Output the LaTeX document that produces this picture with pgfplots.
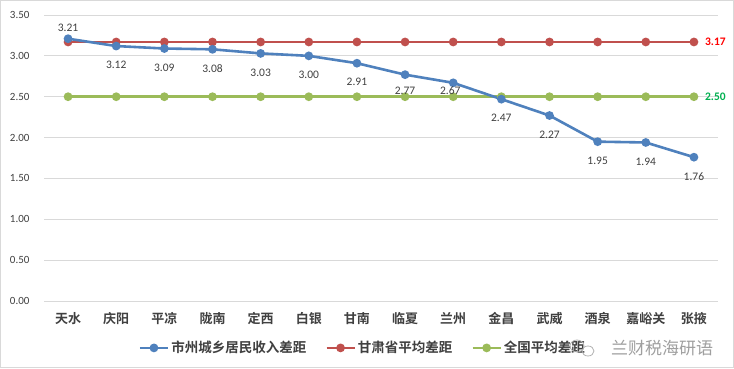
\documentclass[border=0pt]{standalone}
\usepackage{pgfplots}
\pgfplotsset{compat=1.18}
\usepackage{fontspec}
\setmainfont{Carlito}
\newfontfamily\cjk{Noto Sans CJK SC}
\newfontfamily\cjkb{Noto Sans CJK SC Bold}
\definecolor{cblue}{HTML}{4F81BD}
\definecolor{cred}{HTML}{C0504D}
\definecolor{cgreen}{HTML}{9BBB59}
\definecolor{gridc}{HTML}{D9D9D9}
\definecolor{txt}{HTML}{404040}
\begin{document}
\begin{tikzpicture}[x=1pt,y=1pt]
\fill[white] (0,0) rectangle (734,368);
\draw[gridc,line width=1pt] (0.5,0.5) rectangle (733.5,367.5);
\begin{axis}[
  at={(44pt,67pt)}, anchor=south west,
  scale only axis, width=674pt, height=286pt,
  xmin=-0.5, xmax=13.5, ymin=0, ymax=3.5,
  ytick={0,0.5,...,3.5},
  /pgf/number format/assume math mode=true,
  yticklabel style={/pgf/number format/fixed, /pgf/number format/fixed zerofill, /pgf/number format/precision=2},
  yticklabel style={font=\fontsize{11}{12}\selectfont, text=txt, xshift=-11pt},
  xtick={0,...,13},
  xticklabels={天水,庆阳,平凉,陇南,定西,白银,甘南,临夏,兰州,金昌,武威,酒泉,嘉峪关,张掖},
  xticklabel style={font=\cjkb\fontsize{13}{14}\selectfont, text=txt, yshift=-8pt},
  major tick length=0pt,
  axis line style={draw=none},
  ymajorgrids, xmajorgrids=false, grid style={color=gridc, line width=1pt},
  clip=false,
  legend style={at={(0.473,-0.164)}, anchor=center, draw=none, fill=none,
    legend columns=3, font=\cjkb\fontsize{13.5}{14}\selectfont, text=txt,
    /tikz/every even column/.append style={column sep=17pt}},
  legend image code/.code={\draw[mark repeat=2,mark phase=2] plot coordinates {(0pt,0pt)(14pt,0pt)(28pt,0pt)};},
]
\addlegendimage{cblue, line width=2.6pt, mark=*, mark size=3pt}
\addlegendentry{市州城乡居民收入差距}
\addplot[cred, line width=2.6pt, mark=*, mark size=3pt]
  coordinates {(0,3.17) (1,3.17) (2,3.17) (3,3.17) (4,3.17) (5,3.17) (6,3.17)
   (7,3.17) (8,3.17) (9,3.17) (10,3.17) (11,3.17) (12,3.17) (13,3.17)};
\addlegendentry{甘肃省平均差距}
\addplot[cgreen, line width=2.6pt, mark=*, mark size=3pt]
  coordinates {(0,2.50) (1,2.50) (2,2.50) (3,2.50) (4,2.50) (5,2.50) (6,2.50)
   (7,2.50) (8,2.50) (9,2.50) (10,2.50) (11,2.50) (12,2.50) (13,2.50)};
\addlegendentry{全国平均差距}
\addplot[cblue, line width=2.6pt, mark=*, mark size=3pt, forget plot]
  coordinates {(0,3.21) (1,3.12) (2,3.09) (3,3.08) (4,3.03) (5,3.00)
   (6,2.91) (7,2.77) (8,2.67) (9,2.47) (10,2.27) (11,1.95) (12,1.94) (13,1.76)};
% data labels
\addplot[draw=none, forget plot, nodes near coords, point meta=explicit symbolic,
  every node near coord/.append style={font=\fontsize{11.5}{12}\selectfont, text=txt, anchor=center, yshift=-19pt, inner sep=1pt}]
  coordinates {(1,3.12)[3.12] (2,3.09)[3.09] (3,3.08)[3.08] (4,3.03)[3.03] (5,3.00)[3.00]
   (6,2.91)[2.91] (9,2.47)[2.47] (10,2.27)[2.27]
   (11,1.95)[1.95] (12,1.94)[1.94] (13,1.76)[1.76]};
\addplot[draw=none, forget plot, nodes near coords, point meta=explicit symbolic,
  every node near coord/.append style={font=\fontsize{11.5}{12}\selectfont, text=txt, anchor=center, yshift=-16pt, inner sep=1pt}]
  coordinates {(7,2.77)[2.77]};
\addplot[draw=none, forget plot, nodes near coords, point meta=explicit symbolic,
  every node near coord/.append style={font=\fontsize{11.5}{12}\selectfont, text=txt, anchor=center, yshift=-8pt, xshift=-3pt, inner sep=1pt}]
  coordinates {(8,2.67)[2.67]};
\addplot[draw=none, forget plot, nodes near coords, point meta=explicit symbolic,
  every node near coord/.append style={font=\fontsize{11.5}{12}\selectfont, text=txt, anchor=center, yshift=11pt, inner sep=1pt}]
  coordinates {(0,3.21)[3.21]};
\addplot[draw=none, forget plot, nodes near coords, point meta=explicit symbolic,
  every node near coord/.append style={font=\bfseries\fontsize{11.5}{12}\selectfont, text=red, anchor=west, xshift=9pt, inner sep=2pt}]
  coordinates {(13,3.17)[3.17]};
\addplot[draw=none, forget plot, nodes near coords, point meta=explicit symbolic,
  every node near coord/.append style={font=\bfseries\fontsize{11.5}{12}\selectfont, text={rgb,255:red,0;green,176;blue,80}, anchor=west, xshift=9pt, inner sep=2pt}]
  coordinates {(13,2.50)[2.50]};
\end{axis}
% watermark
\draw[gray!60, line width=0.8pt] (577,22) ellipse (7pt and 6pt);
\draw[gray!60, line width=0.8pt] (588,17) ellipse (6pt and 5pt);
\node[anchor=west, text=gray!75, font=\cjk\fontsize{17}{18}\selectfont, inner sep=0pt] at (611,20) {兰财税海研语};
\end{tikzpicture}
\end{document}
